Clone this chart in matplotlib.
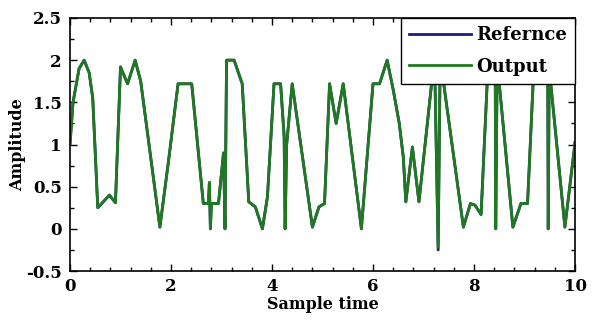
import matplotlib
matplotlib.use("Agg")
import matplotlib.pyplot as plt
from matplotlib.ticker import MultipleLocator

sample_time = [0.00, 0.06, 0.18, 0.28, 0.38, 0.45, 0.55, 0.78, 0.90, 1.00,
               1.14, 1.29, 1.40, 1.78, 1.95, 2.14, 2.41, 2.64, 2.74, 2.76,
               2.78, 2.80, 2.94, 3.04, 3.07, 3.10, 3.25, 3.41, 3.54, 3.67,
               3.81, 3.91, 4.04, 4.17, 4.24, 4.26, 4.29, 4.40, 4.80, 4.93,
               5.04, 5.14, 5.27, 5.41, 5.77, 6.00, 6.13, 6.28, 6.40, 6.52,
               6.60, 6.65, 6.78, 6.91, 7.16, 7.22, 7.29, 7.33, 7.40, 7.79,
               7.93, 8.02, 8.14, 8.26, 8.32, 8.42, 8.43, 8.46, 8.50, 8.77,
               8.93, 9.06, 9.17, 9.30, 9.46, 9.47, 9.49, 9.52, 9.80, 10.00]

reference = [1.00, 1.50, 1.90, 2.00, 1.85, 1.55, 0.25, 0.40, 0.31, 1.92,
             1.72, 2.00, 1.75, 0.02, 0.80, 1.72, 1.72, 0.30, 0.30, 0.55,
             0.00, 0.30, 0.30, 0.90, 0.00, 2.00, 2.00, 1.72, 0.32, 0.26,
             0.00, 0.38, 1.72, 1.72, 1.10, 0.00, 1.00, 1.72, 0.02, 0.26,
             0.30, 1.72, 1.25, 1.72, 0.00, 1.72, 1.72, 2.00, 1.65, 1.25,
             0.85, 0.32, 0.97, 0.32, 1.72, 2.00, -0.25, 2.00, 1.72, 0.02,
             0.30, 0.28, 0.17, 1.72, 2.00, 2.00, 0.00, 2.00, 1.72, 0.02,
             0.30, 0.30, 1.72, 2.00, 2.00, 0.00, 2.00, 1.72, 0.02, 1.02]

output = [1.00, 1.50, 1.90, 2.00, 1.85, 1.55, 0.25, 0.40, 0.31, 1.92,
          1.72, 2.00, 1.75, 0.02, 0.80, 1.72, 1.72, 0.30, 0.30, 0.55,
          0.00, 0.30, 0.30, 0.90, 0.00, 2.00, 2.00, 1.72, 0.32, 0.26,
          0.00, 0.38, 1.72, 1.72, 1.10, 0.00, 1.00, 1.72, 0.02, 0.26,
          0.30, 1.72, 1.25, 1.72, 0.00, 1.72, 1.72, 2.00, 1.65, 1.25,
          0.85, 0.32, 0.97, 0.32, 1.72, 2.00, -0.22, 2.00, 1.72, 0.02,
          0.30, 0.28, 0.17, 1.72, 2.00, 2.00, 0.00, 2.00, 1.72, 0.02,
          0.30, 0.30, 1.72, 2.00, 2.00, 0.00, 2.00, 1.72, 0.02, 1.02]

xticks = [0, 2, 4, 6, 8, 10]
yticks = [-0.5, 0, 0.5, 1, 1.5, 2, 2.5]

plt.rcParams['font.family'] = ['DejaVu Serif']
plt.rcParams['font.weight'] = 'bold'

fig = plt.figure(figsize=(5.97, 3.31), dpi=100)
ax = fig.add_axes([70/597, 1-271/331, 505/597, 253/331])

ax.plot(sample_time, reference, color='#1c1c80', lw=2.0, label='Refernce')
ax.plot(sample_time, output, color='#1f7a1f', lw=2.0, label='Output')

ax.set_xlim(0, 10)
ax.set_ylim(-0.5, 2.5)
ax.set_xticks(xticks)
ax.set_xticklabels([f"{v:g}" for v in xticks], fontweight='bold')
ax.set_yticks(yticks)
ax.set_yticklabels([f"{v:g}" for v in yticks], fontweight='bold')
ax.xaxis.set_minor_locator(MultipleLocator(0.4))
ax.yaxis.set_minor_locator(MultipleLocator(0.25))
ax.tick_params(which='both', direction='in', top=True, right=True, labelsize=12, width=1)
ax.tick_params(which='major', length=5)
ax.tick_params(which='minor', length=3)
ax.tick_params(axis='x', which='major', pad=5)
ax.tick_params(axis='y', which='major', pad=6)
for s in ax.spines.values():
    s.set_linewidth(1.2)

ax.set_xlabel('Sample time', fontsize=11.5, fontweight='bold', labelpad=1)
ax.set_ylabel('Amplitude', fontsize=11.5, fontweight='bold', labelpad=0)

leg = ax.legend(loc='upper right', borderaxespad=0, fancybox=False, framealpha=1,
                edgecolor='black', prop={'size': 13, 'weight': 'bold'},
                handlelength=3.4, handletextpad=0.3,
                labelspacing=0.75, borderpad=0.45)
leg.get_frame().set_linewidth(1.0)

fig.savefig('out.png', dpi=100)
